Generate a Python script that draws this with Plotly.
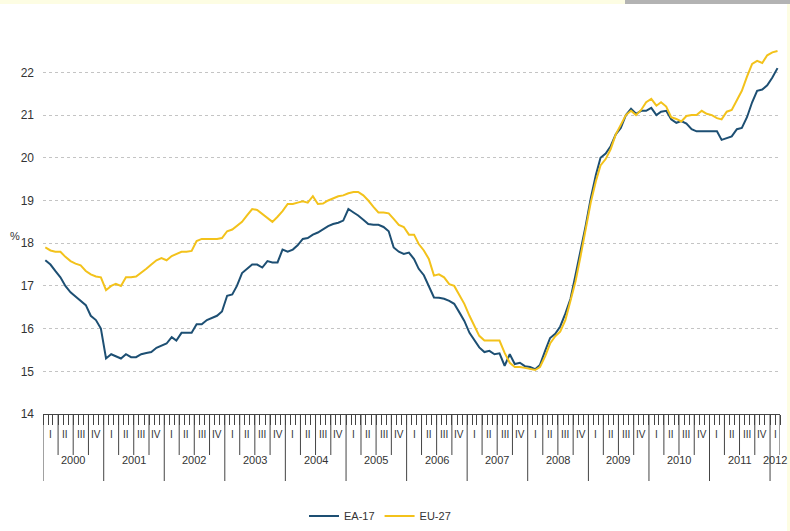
import pandas as pd
import plotly.graph_objects as go

# monthly series, Jan 2000 .. Feb 2012 (%)
months = pd.date_range("2000-01-01", periods=146, freq="MS") + pd.Timedelta(days=14)

ea17 = [
    17.6, 17.5, 17.35, 17.2, 17.0, 16.85, 16.75, 16.65, 16.55, 16.3, 16.2, 16.0,
    15.3, 15.4, 15.35, 15.3, 15.4, 15.33, 15.33, 15.4, 15.43, 15.45, 15.55, 15.6,
    15.65, 15.8, 15.72, 15.9, 15.9, 15.9, 16.1, 16.1, 16.2, 16.25, 16.3, 16.4,
    16.77, 16.8, 17.0, 17.3, 17.4, 17.5, 17.5, 17.43, 17.58, 17.55, 17.55, 17.85,
    17.8, 17.85, 17.95, 18.1, 18.12, 18.2, 18.25, 18.33, 18.4, 18.45, 18.48, 18.53,
    18.8, 18.72, 18.65, 18.55, 18.45, 18.43, 18.43, 18.38, 18.28, 17.9, 17.8, 17.75,
    17.78, 17.63, 17.4, 17.25, 17.0, 16.73, 16.72, 16.7, 16.65, 16.58, 16.38, 16.18,
    15.9, 15.72, 15.56, 15.45, 15.48, 15.4, 15.42, 15.13, 15.4, 15.17, 15.2, 15.12,
    15.1, 15.05, 15.15, 15.48, 15.78, 15.88, 16.05, 16.35, 16.7, 17.25, 17.8, 18.4,
    19.05, 19.6, 20.0, 20.1, 20.27, 20.55, 20.7, 21.0, 21.15, 21.03, 21.1, 21.1,
    21.17, 21.0, 21.08, 21.1, 20.9, 20.82, 20.86, 20.8, 20.67, 20.62, 20.62, 20.62,
    20.62, 20.62, 20.42, 20.47, 20.5, 20.67, 20.7, 20.95, 21.3, 21.57, 21.6, 21.7,
    21.88, 22.1,
]

eu27 = [
    17.9, 17.83, 17.8, 17.8, 17.68, 17.58, 17.52, 17.48, 17.35, 17.27, 17.22, 17.2,
    16.9, 17.0, 17.05, 17.0, 17.2, 17.2, 17.22, 17.3, 17.4, 17.5, 17.6, 17.65,
    17.6, 17.7, 17.75, 17.8, 17.8, 17.82, 18.05, 18.1, 18.1, 18.1, 18.1, 18.12,
    18.28, 18.32, 18.4, 18.5, 18.65, 18.8, 18.78, 18.68, 18.58, 18.5, 18.62, 18.75,
    18.92, 18.92, 18.95, 18.98, 18.95, 19.1, 18.92, 18.93, 19.0, 19.05, 19.1, 19.12,
    19.17, 19.2, 19.2, 19.12, 19.0, 18.85, 18.72, 18.72, 18.7, 18.57, 18.43, 18.38,
    18.2, 18.2, 17.98, 17.83, 17.63, 17.24, 17.27, 17.2, 17.04, 17.0, 16.8, 16.58,
    16.3, 16.07, 15.83, 15.72, 15.72, 15.72, 15.72, 15.43, 15.2, 15.1, 15.1, 15.08,
    15.05, 15.03, 15.1, 15.35, 15.65, 15.82, 15.93, 16.2, 16.65, 17.1, 17.7, 18.3,
    18.95, 19.45, 19.82, 19.97, 20.2, 20.55, 20.78, 21.0, 21.1, 21.0, 21.12, 21.3,
    21.38, 21.22, 21.3, 21.2, 20.95, 20.91, 20.85, 20.98, 21.0, 21.0, 21.1, 21.03,
    21.0, 20.93, 20.9, 21.08, 21.12, 21.35, 21.57, 21.9, 22.2, 22.27, 22.22, 22.4,
    22.47, 22.5,
]

years = list(range(2000, 2013))
quarters = ["I", "II", "III", "IV"]

X_START, X_END = "2000-01-01", "2012-03-01"
FONT = "Liberation Sans, Arial, sans-serif"
TXT = "#333333"

# plot area is 43..780 px wide, 31..414 px tall
L, R, T, B = 43, 780, 31, 414
W, H = R - L, B - T
def px(pix):
    return (pix - L) / W
def py(pix):
    return (B - pix) / H

fig = go.Figure()
fig.add_trace(go.Scatter(x=months, y=ea17, name="EA-17", mode="lines",
                         line=dict(color="#1d4f73", width=2)))
fig.add_trace(go.Scatter(x=months, y=eu27, name="EU-27", mode="lines",
                         line=dict(color="#f3c21b", width=2)))

shapes = []
annotations = []
end = pd.Timestamp(X_END)
for yr in years:
    for q in range(4):
        start = pd.Timestamp(year=yr, month=3 * q + 1, day=1)
        if start >= end:
            break
        bottom = py(481) if q == 0 else py(455)
        shapes.append(dict(type="line", xref="x", yref="paper", x0=start, x1=start,
                           y0=0, y1=bottom, line=dict(color="#444444", width=1)))
        if yr == 2012:
            mid = pd.Timestamp("2012-02-03")
        else:
            mid = pd.Timestamp(year=yr, month=3 * q + 2, day=15)
        annotations.append(dict(x=mid, y=py(442), xref="x", yref="paper",
                                text=quarters[q], showarrow=False,
                                font=dict(size=10, color=TXT, family=FONT)))
    ymid = pd.Timestamp("2012-01-28") if yr == 2012 else pd.Timestamp(year=yr, month=7, day=1)
    annotations.append(dict(x=ymid, y=py(468), xref="x", yref="paper",
                            text=str(yr), showarrow=False,
                            font=dict(size=11, color=TXT, family=FONT)))
shapes.append(dict(type="line", xref="x", yref="paper", x0=end, x1=end,
                   y0=0, y1=py(455), line=dict(color="#444444", width=1)))

# page decorations: pale top band, grey tab, pale right edge
shapes.append(dict(type="rect", xref="paper", yref="paper", layer="below",
                   x0=px(0), x1=px(790), y0=py(4), y1=py(0),
                   fillcolor="#fdfde3", line=dict(width=0)))
shapes.append(dict(type="rect", xref="paper", yref="paper",
                   x0=px(625), x1=px(790), y0=py(4), y1=py(0),
                   fillcolor="#b3b3b3", line=dict(width=0)))
shapes.append(dict(type="rect", xref="paper", yref="paper", layer="below",
                   x0=px(787), x1=px(790), y0=py(531), y1=py(4),
                   fillcolor="#fdfde3", line=dict(width=0)))

annotations.append(dict(x=px(8), y=py(236), xref="paper", yref="paper",
                        text="%", showarrow=False,
                        font=dict(size=11, color=TXT, family=FONT)))

fig.update_layout(
    width=790,
    height=531,
    margin=dict(l=L, r=790 - R, t=T, b=531 - B, autoexpand=False),
    paper_bgcolor="white",
    plot_bgcolor="white",
    font=dict(family=FONT, color=TXT),
    showlegend=True,
    legend=dict(orientation="h", x=px(380), xanchor="center",
                yref="container", y=1 - 516 / 531, yanchor="middle",
                font=dict(size=11, color=TXT, family=FONT), bgcolor="rgba(0,0,0,0)"),
    shapes=shapes,
    annotations=annotations,
    hovermode=False,
)
fig.update_xaxes(
    type="date",
    range=[X_START, X_END],
    showgrid=False,
    zeroline=False,
    showline=True,
    linecolor="#444444",
    linewidth=1,
    ticks="outside",
    tickmode="linear",
    tick0=X_START,
    dtick="M1",
    ticklen=10,
    tickcolor="#444444",
    tickwidth=1,
    showticklabels=False,
    automargin=False,
)
fig.update_yaxes(
    range=[14, 14 + H / 42.7],
    tickmode="linear",
    tick0=14,
    dtick=1,
    showgrid=True,
    gridcolor="#c4c4c4",
    gridwidth=1,
    griddash="3px,3px",
    zeroline=False,
    showline=False,
    ticks="",
    ticklabelstandoff=8,
    tickfont=dict(size=12, color=TXT, family=FONT),
    automargin=False,
)

# drop the browser's default 8px page margin so the figure sits at the corner
fig.write_html("out.html", config={"displayModeBar": False},
               post_script="document.body.style.margin='0px';")
